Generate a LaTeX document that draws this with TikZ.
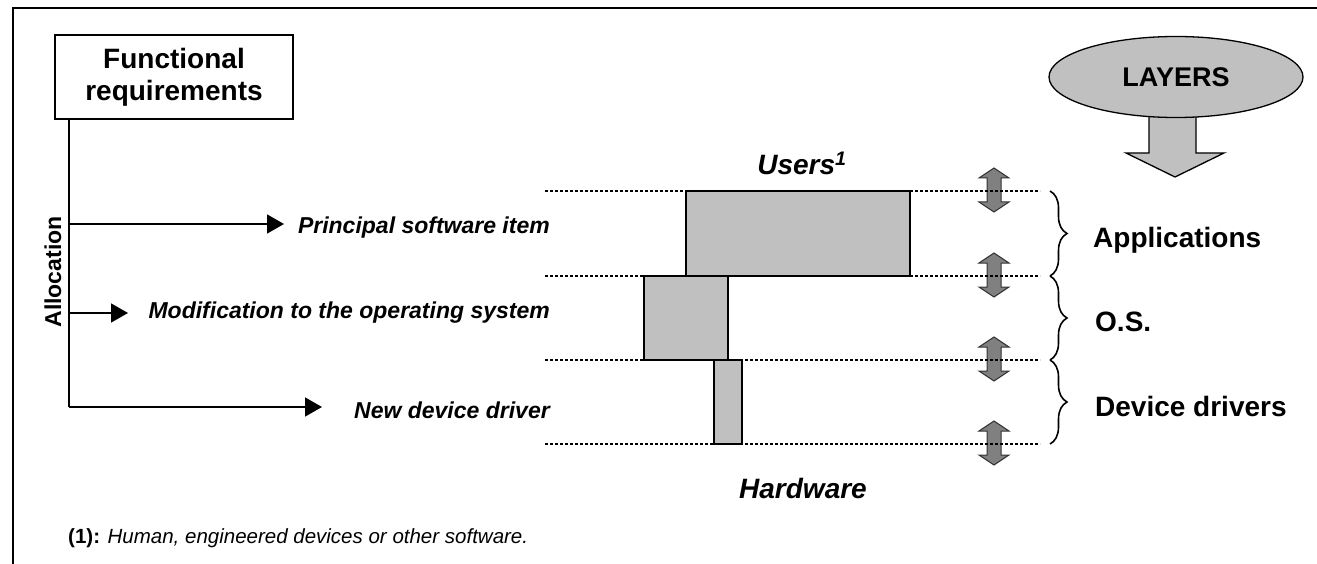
\documentclass[tikz,border=0pt]{standalone}
\usepackage{fontspec}
\setmainfont{Liberation Sans}
\usetikzlibrary{arrows.meta,decorations.pathreplacing,shapes.geometric}
\definecolor{boxgray}{RGB}{192,192,192}
\definecolor{arrgray}{RGB}{128,128,128}
\tikzset{
  biglbl/.style={font=\fontsize{28}{32}\selectfont\bfseries},
  itlbl/.style={font=\fontsize{23}{26}\selectfont\bfseries\itshape},
  bigit/.style={font=\fontsize{28}{32}\selectfont\bfseries\itshape},
  layerbox/.style={draw, fill=boxgray, line width=1.5, inner sep=0, outer sep=0},
  dotline/.style={line width=1.2, dash pattern=on 3pt off 2pt},
  alloc/.style={line width=1.5, -{Triangle[length=17pt,width=19pt]}},
  dblarr/.style={draw=black!80, fill=arrgray, line width=1},
  bracestyle/.style={decorate, decoration={brace, amplitude=17pt}, line width=1.6}
}
\begin{document}
\begin{tikzpicture}[x=1pt,y=-1pt]
\useasboundingbox (0,0) rectangle (1317,564);
% frame (top and left edges)
\draw[line width=2] (13,564) -- (13,8) -- (1317,8);

% Functional requirements
\node[draw, line width=1.3, minimum width=238, minimum height=84, inner sep=0, align=center, biglbl] (fr) at (174,77) {Functional\\requirements};
\coordinate (a0) at (69,119);
\coordinate (a1) at (69,224);
\coordinate (a2) at (69,313);
\coordinate (a3) at (69,407);
\coordinate (t1) at (284,224);
\coordinate (t2) at (128,313);
\coordinate (t3) at (322,407);
\draw[line width=1.5] (a0) -- (a3);
\draw[alloc] (a1) -- (t1);
\draw[alloc] (a2) -- (t2);
\draw[alloc] (a3) -- (t3);
\node[rotate=90, font=\fontsize{23}{26}\selectfont\bfseries] (allocation) at (53,272) {Allocation};

\node[itlbl, anchor=east, inner sep=0] (psi) at (550,228) {Principal software item};
\node[itlbl, anchor=east, inner sep=0] (mos) at (550,313) {Modification to the operating system};
\node[itlbl, anchor=east, inner sep=0] (ndd) at (550,410) {New device driver};

% double arrows
\foreach \yy/\nm in {190/da1,275/da2,359/da3,443/da4}{
  \draw[dblarr] (994,\yy-22) -- (1009,\yy-12) -- (1001,\yy-12) -- (1001,\yy+12) -- (1009,\yy+12) -- (994,\yy+22) -- (979,\yy+12) -- (987,\yy+12) -- (987,\yy-12) -- (979,\yy-12) -- cycle;
}

% dotted layer lines
\foreach \yy/\nm in {191/l1,276/l2,360/l3,444/l4}{
  \coordinate (\nm w) at (545,\yy);
  \coordinate (\nm e) at (1040,\yy);
  \draw[dotline] (\nm w) -- (\nm e);
}

% layer boxes
\node[layerbox, minimum width=224, minimum height=85] (appbox) at (798,233.5) {};
\node[layerbox, minimum width=84, minimum height=84] (osbox) at (686,318) {};
\node[layerbox, minimum width=28, minimum height=84] (drvbox) at (728,402) {};

\node[bigit] (users) at (802,163) {Users\textsuperscript{1}};
\node[bigit] (hw) at (803,488) {Hardware};

% braces
\coordinate (b1) at (1050,191);
\coordinate (b2) at (1050,276);
\coordinate (b3) at (1050,360);
\coordinate (b4) at (1050,444);
\draw[bracestyle] (b1) -- (b2);
\draw[bracestyle] (b2) -- (b3);
\draw[bracestyle] (b3) -- (b4);
\node[biglbl, anchor=west, inner sep=0] (apps) at (1093,240) {Applications};
\node[biglbl, anchor=west, inner sep=0] (os) at (1095,322) {O.S.};
\node[biglbl, anchor=west, inner sep=0] (dd) at (1095,406) {Device drivers};

% LAYERS
\draw[fill=boxgray, line width=1.3] (1149,100) -- (1149,153) -- (1126,153) -- (1175,177) -- (1224,153) -- (1196,153) -- (1196,100) -- cycle;
\node[ellipse, draw, fill=boxgray, line width=1.3, minimum width=254, minimum height=81, inner sep=0, font=\fontsize{27}{30}\selectfont\bfseries] (layers) at (1176,77) {LAYERS};

% footnote
\node[anchor=west, inner sep=0, font=\fontsize{20.5}{24}\selectfont] (fn) at (68,538) {\textbf{(1):} \textit{Human, engineered devices or other software.}};
\end{tikzpicture}
\end{document}
